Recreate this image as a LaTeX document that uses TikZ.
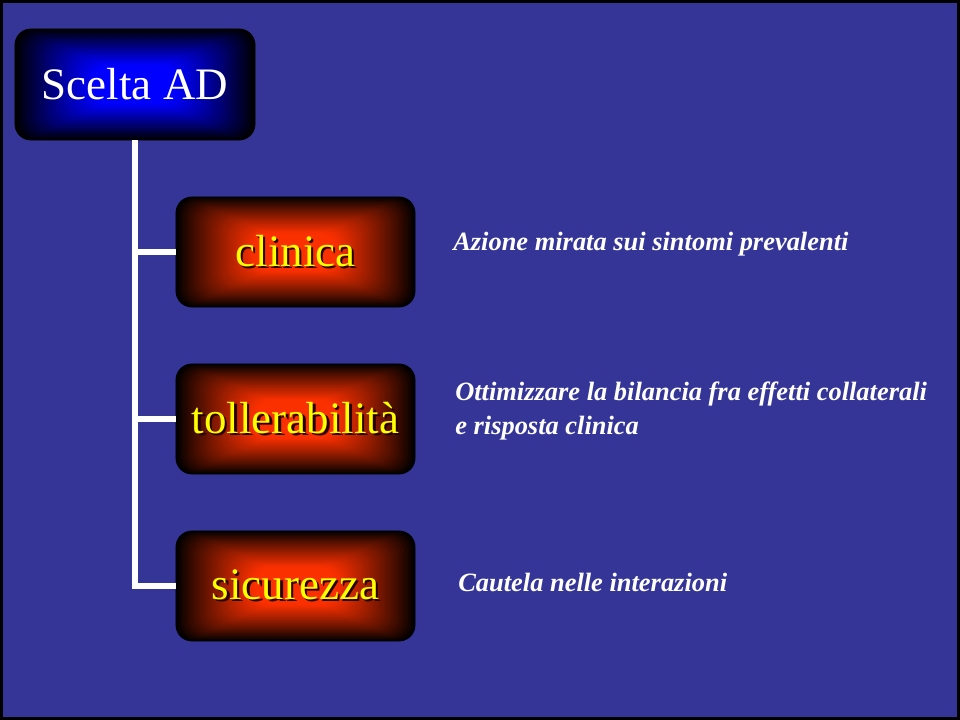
\documentclass[tikz,border=0pt]{standalone}
\usepackage{fontspec}
\setmainfont{Liberation Serif}
\usepackage{xcolor}
\definecolor{slideblue}{RGB}{53,53,152}
\definecolor{glowred}{RGB}{250,48,0}
\definecolor{glowblue}{RGB}{0,0,255}
\definecolor{txtyellow}{RGB}{255,255,0}
\usetikzlibrary{positioning, calc}
\newcommand{\shtext}[1]{\makebox[0pt][l]{\hspace{1.6pt}\raisebox{-1.6pt}{\color{black!85!red}#1}}#1}
\tikzset{
	glow/.style={path picture={
		\foreach \i in {0,...,40}{
			\pgfmathsetmacro\s{1-0.8*\i/40}
			\pgfmathsetmacro\c{100*min(1,(0.8*\i/40/0.65)^0.9)}
			\fill[#1!\c!black, rounded corners=4mm]
				($(path picture bounding box.center)!\s!(path picture bounding box.south west)$) rectangle
				($(path picture bounding box.center)!\s!(path picture bounding box.north east)$);
		}
	}},
	rootbox/.style={glow=glowblue, rounded corners=0.4cm, draw=black, line width=0.6pt,
		minimum width=6cm, minimum height=2.775cm, text=white,
		font=\fontsize{32}{36}\selectfont},
	critbox/.style={glow=glowred, rounded corners=0.4cm, draw=black, line width=0.6pt,
		minimum width=5.975cm, minimum height=2.75cm, text=txtyellow,
		font=\fontsize{32}{36}\selectfont},
	note/.style={anchor=west, inner sep=0pt, align=left, text=white,
		font=\fontsize{18.8}{24}\selectfont\bfseries\itshape},
	branch/.style={draw=white, line width=3.6pt, line join=miter},
}

\begin{document}
\begin{tikzpicture}[x=0.025cm, y=-0.025cm]
	\fill[slideblue] (0,0) rectangle (960,720);
	\useasboundingbox (0,0) rectangle (960,720);
	\draw[black, line width=2.4pt] (1.5,1.5) rectangle (958.5,718.5);

	\node[rootbox] (scelta) at (135,84.5) {Scelta AD};
	\node[critbox] (clinica) at (295.5,252) {\shtext{clinica}};
	\node[critbox] (toll) at (295.5,419) {\shtext{tollerabilità}};
	\node[critbox] (sicur) at (295.5,586) {\shtext{sicurezza}};

	% tree lines
	\draw[branch] (scelta.south) |- (sicur.west);
	\draw[branch] (scelta.south) |- (clinica.west);
	\draw[branch] (scelta.south) |- (toll.west);

	\node[note] (n1) at (453,244) {Azione mirata sui sintomi prevalenti};
	\node[note] (n2) at (455,411) {Ottimizzare la bilancia fra effetti collaterali\\e risposta clinica};
	\node[note] (n3) at (458,582) {Cautela nelle interazioni};
\end{tikzpicture}
\end{document}
